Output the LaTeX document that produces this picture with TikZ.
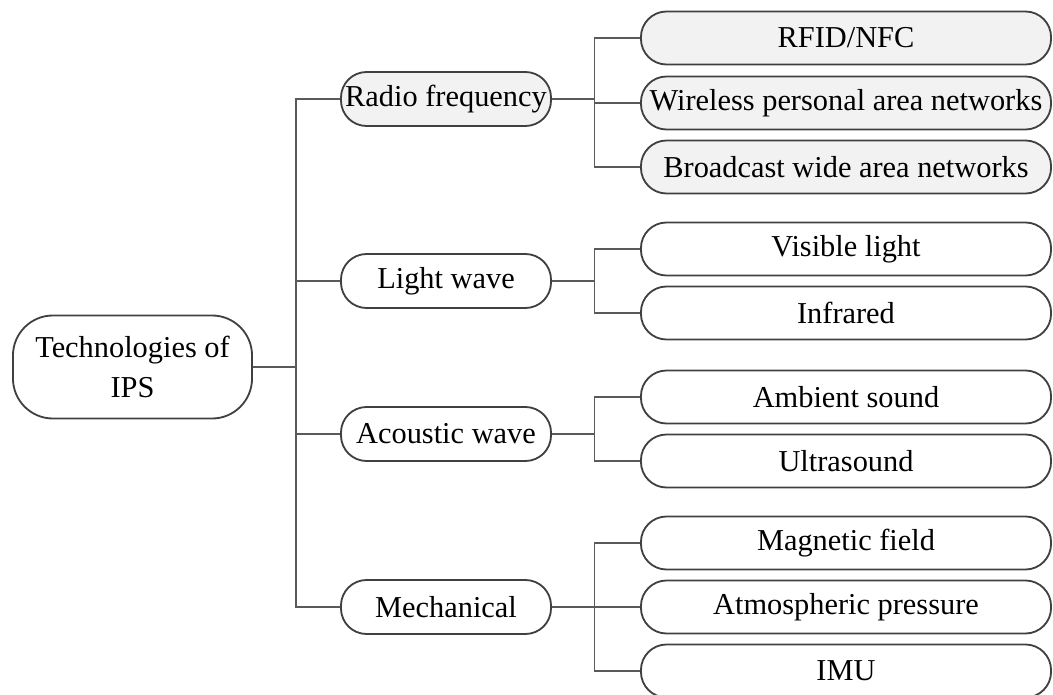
\documentclass[tikz,border=0pt]{standalone}
\usepackage{fontspec}
\setmainfont{Liberation Serif}
\usepackage{tikz}
\usetikzlibrary{calc}
\definecolor{edgegray}{HTML}{404040}
\definecolor{linkgray}{HTML}{5A5A5A}
\definecolor{rfgray}{HTML}{F2F2F2}
\tikzset{
	box/.style={draw=edgegray,line width=1.3pt,inner sep=0pt,font=\fontsize{21.6}{28}\selectfont},
	rootbox/.style={box,minimum width=5.975cm,minimum height=2.575cm,rounded corners=1cm,align=center},
	group/.style={box,minimum width=5.25cm,minimum height=1.35cm,rounded corners=0.64cm},
	leaf/.style={box,minimum width=10.25cm,minimum height=1.325cm,rounded corners=0.64cm},
	rf/.style={fill=rfgray},
	link/.style={draw=linkgray,line width=1.1pt}
}
\begin{document}
\begin{tikzpicture}[x=0.025cm,y=-0.025cm]
	\useasboundingbox (0,0) rectangle (1053,695);
	% root and groups
	\node[rootbox] (root) at (132.5,367) {Technologies of\\IPS};
	\node[group,rf] (radio) at (446,99) {Radio frequency};
	\node[group] (light) at (446,281) {Light wave};
	\node[group] (sound) at (446,434) {Acoustic wave};
	\node[group] (mech) at (446,607) {Mechanical};
	% leaves
	\node[leaf,rf] (rfid) at (846,38) {RFID/NFC};
	\node[leaf,rf] (wpan) at (846,103) {Wireless personal area networks};
	\node[leaf,rf] (bwan) at (846,167) {Broadcast wide area networks};
	\node[leaf] (visible) at (846,249) {Visible light};
	\node[leaf] (infra) at (846,313) {Infrared};
	\node[leaf] (ambient) at (846,397) {Ambient sound};
	\node[leaf] (ultra) at (846,461) {Ultrasound};
	\node[leaf] (magnet) at (846,543) {Magnetic field};
	\node[leaf] (atmos) at (846,607) {Atmospheric pressure};
	\node[leaf] (imu) at (846,671) {IMU};
	% trunk and buses
	\coordinate (trunk) at (296,0);
	\coordinate (bus) at (594.5,0);
	\draw[link] (radio.west) -| (trunk |- mech.west) -- (mech.west);
	\draw[link] (light.west) -- (trunk |- light.west);
	\draw[link] (sound.west) -- (trunk |- sound.west);
	\draw[link] (root.east) -- (trunk |- root.east);
	\foreach \g/\a/\z in {radio/rfid/bwan,light/visible/infra,sound/ambient/ultra,mech/magnet/imu}{
		\draw[link] (\g.east) -- (bus |- \g.east);
		\draw[link] (\a.west) -| (bus |- \z.west) -- (\z.west);
	}
	\draw[link] (wpan.west) -- (bus |- wpan.west);
	\draw[link] (atmos.west) -- (bus |- atmos.west);
\end{tikzpicture}
\end{document}
